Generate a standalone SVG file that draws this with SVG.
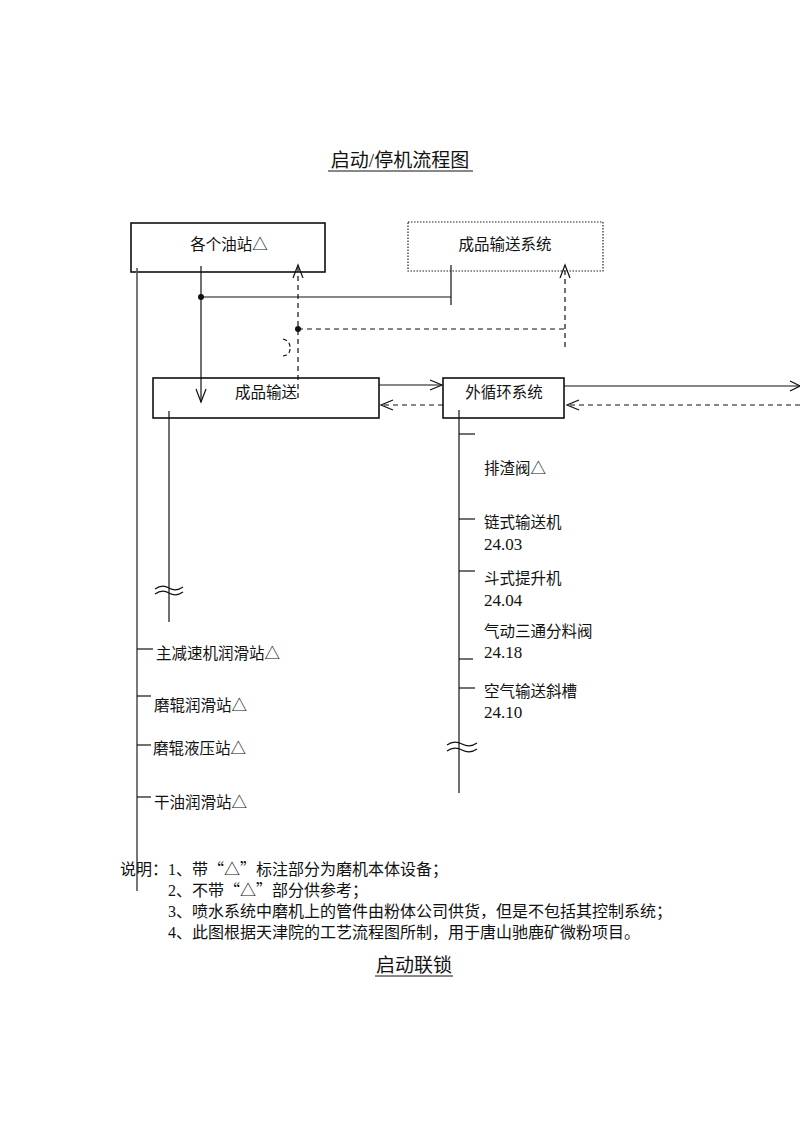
<svg xmlns="http://www.w3.org/2000/svg" width="800" height="1132" viewBox="0 0 800 1132">
<style>
text{font-family:"Liberation Serif","Noto Sans CJK SC",serif;fill:#111;}
.lbl{font-size:15.5px;}
.num{font-size:17px;}
.note{font-size:16px;}
.q{font-family:"Noto Sans CJK SC",sans-serif;}
.ttl{font-size:19px;}
.box{fill:#fff;stroke:#111;stroke-width:1.6;}
.dot{fill:#fff;stroke:#222;stroke-width:1.2;stroke-dasharray:1.5 1.5;}
.ln{fill:none;stroke:#111;stroke-width:1.2;}
.gl{fill:none;stroke:#555;stroke-width:1.6;}
.ds{fill:none;stroke:#111;stroke-width:1.2;stroke-dasharray:5 4;}
.ah{fill:none;stroke:#111;stroke-width:1.2;}
</style>
<rect width="800" height="1132" fill="#fff"/>
<g id="title">
<text class="ttl" x="400" y="167" text-anchor="middle">启动/停机流程图</text>
<line x1="328" y1="171" x2="473" y2="171" stroke="#111" stroke-width="1"/>
</g>
<g id="node-oil">
<rect class="box" x="131" y="223" width="194" height="49"/>
<text class="lbl" x="229" y="250" text-anchor="middle">各个油站△</text>
</g>
<g id="node-product-system">
<rect class="dot" x="408" y="222" width="195" height="49"/>
<text class="lbl" x="505" y="250" text-anchor="middle">成品输送系统</text>
</g>
<g id="node-product">
<rect class="box" x="153" y="378" width="226" height="40"/>
<text class="lbl" x="266" y="398" text-anchor="middle">成品输送</text>
</g>
<g id="node-outer">
<rect class="box" x="443" y="378" width="121" height="40"/>
<text class="lbl" x="504" y="398" text-anchor="middle">外循环系统</text>
</g>
<g id="connectors">
<line class="ln" x1="201" y1="266" x2="201" y2="402"/>
<polyline class="ah" points="196,389 201,402 206,389"/>
<circle cx="201" cy="297" r="3" fill="#111"/>
<line class="ln" x1="201" y1="297" x2="451" y2="297"/>
<line class="ln" x1="451" y1="265" x2="451" y2="305"/>
<line class="ds" x1="298" y1="398" x2="298" y2="266"/>
<polyline class="ah" points="293,278 298,265 303,278"/>
<circle cx="298" cy="329" r="3" fill="#111"/>
<line class="ds" x1="298" y1="329" x2="565" y2="329"/>
<line class="ds" x1="565" y1="347" x2="565" y2="266"/>
<polyline class="ah" points="560,278 565,265 570,278"/>
<path d="M283,339 Q290,341 290,347 M290,349 Q290,355 283,356" fill="none" stroke="#111" stroke-width="1.2" stroke-dasharray="4 3"/>
<line class="ln" x1="379" y1="385" x2="442" y2="385" stroke="#333"/>
<polyline class="ah" points="430,380 442,385 430,390"/>
<line class="ds" x1="443" y1="405" x2="381" y2="405"/>
<polyline class="ah" points="393,400 381,405 393,410"/>
<line class="ln" x1="564" y1="386" x2="800" y2="386" stroke="#333"/>
<polyline class="ah" points="790,381 800,386 790,391"/>
<line class="ds" x1="800" y1="405" x2="567" y2="405"/>
<polyline class="ah" points="579,400 567,405 579,410"/>
<line class="gl" x1="137" y1="268" x2="137" y2="891"/>
<line class="ln" x1="137" y1="649" x2="153" y2="649"/>
<line class="ln" x1="137" y1="696" x2="151" y2="696"/>
<line class="ln" x1="137" y1="745" x2="151" y2="745"/>
<line class="ln" x1="137" y1="797" x2="151" y2="797"/>
<line class="ln" x1="169" y1="411" x2="169" y2="622"/>
<path d="M155,589 Q162,584 169,588 T183,587 M155,594 Q162,589 169,593 T183,592" class="ln"/>
<line class="ln" x1="459" y1="410" x2="459" y2="793"/>
<line class="ln" x1="459" y1="434" x2="475" y2="434"/>
<line class="ln" x1="459" y1="519" x2="475" y2="519"/>
<line class="ln" x1="459" y1="571" x2="475" y2="571"/>
<line class="ln" x1="459" y1="659" x2="473" y2="659"/>
<line class="ln" x1="459" y1="688" x2="475" y2="688"/>
<path d="M447,745 Q454,740 462,744 T477,743 M447,751 Q454,746 462,750 T477,749" class="ln"/>
</g>
<g id="left-labels">
<text class="lbl" x="156" y="659">主减速机润滑站△</text>
<text class="lbl" x="154" y="711">磨辊润滑站△</text>
<text class="lbl" x="153" y="754">磨辊液压站△</text>
<text class="lbl" x="154" y="808">干油润滑站△</text>
</g>
<g id="outer-labels">
<text class="lbl" x="484" y="474">排渣阀△</text>
<text class="lbl" x="484" y="528">链式输送机</text>
<text class="num" x="484" y="550">24.03</text>
<text class="lbl" x="484" y="584">斗式提升机</text>
<text class="num" x="484" y="606">24.04</text>
<text class="lbl" x="484" y="637">气动三通分料阀</text>
<text class="num" x="484" y="658">24.18</text>
<text class="lbl" x="484" y="697">空气输送斜槽</text>
<text class="num" x="484" y="718">24.10</text>
</g>
<g id="notes">
<text class="note" x="120" y="875">说明：1、带<tspan class="q">“</tspan>△<tspan class="q">”</tspan>标注部分为磨机本体设备；</text>
<text class="note" x="168" y="896">2、不带<tspan class="q">“</tspan>△<tspan class="q">”</tspan>部分供参考；</text>
<text class="note" x="168" y="917">3、喷水系统中磨机上的管件由粉体公司供货，但是不包括其控制系统；</text>
<text class="note" x="168" y="938">4、此图根据天津院的工艺流程图所制，用于唐山驰鹿矿微粉项目。</text>
</g>
<g id="subtitle">
<text class="ttl" x="414" y="972" text-anchor="middle">启动联锁</text>
<line x1="375" y1="976" x2="453" y2="976" stroke="#111" stroke-width="1"/>
</g>
</svg>
